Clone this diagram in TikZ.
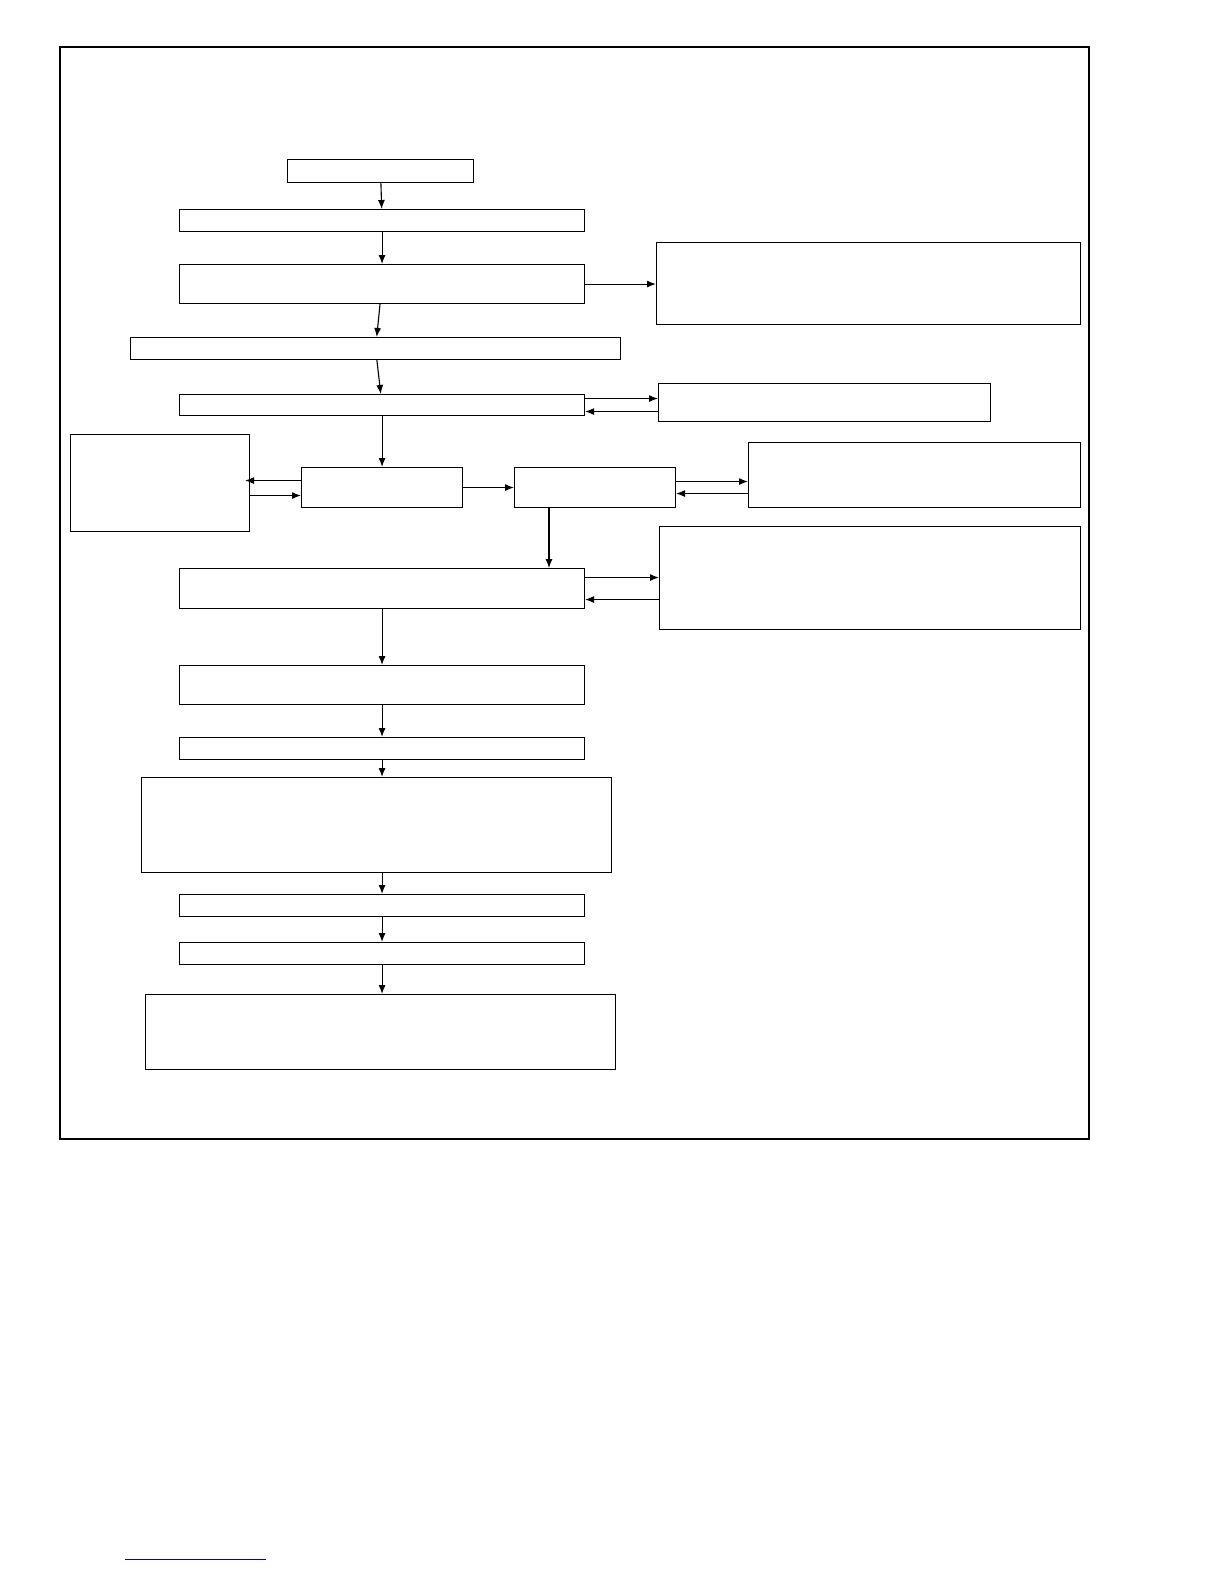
\documentclass[tikz,border=0pt]{standalone}
\usetikzlibrary{arrows.meta}
\begin{document}
\begin{tikzpicture}[x=1pt,y=-1pt,
  box/.style={draw,line width=1.1pt,anchor=north west,inner sep=0pt},
  arr/.style={line width=1.1pt,-{Latex[length=9pt,width=7pt]}}]
\useasboundingbox (0,0) rectangle (1224,1584);
\draw[line width=1.8pt] (60,47) rectangle (1089,1139);
\newcommand{\bx}[5]{\node[box,minimum width=#4pt-#2pt,minimum height=#5pt-#3pt] (#1) at (#2,#3) {};}
\bx{b1}{287}{159}{473}{182}
\bx{b2}{179}{209}{584}{231}
\bx{b3}{179}{264}{584}{303}
\bx{r1}{656}{242}{1080}{324}
\bx{b4}{130}{337}{620}{359}
\bx{b5}{179}{394}{584}{415}
\bx{r2}{658}{383}{990}{421}
\bx{l1}{70}{434}{249}{531}
\bx{c1}{301}{467}{462}{507}
\bx{c2}{514}{467}{675}{507}
\bx{r3}{748}{442}{1080}{507}
\bx{r4}{659}{526}{1080}{629}
\bx{b6}{179}{568}{584}{608}
\bx{b7}{179}{665}{584}{704}
\bx{b8}{179}{737}{584}{759}
\bx{b9}{141}{777}{611}{872}
\bx{b10}{179}{894}{584}{916}
\bx{b11}{179}{942}{584}{964}
\bx{b12}{145}{994}{615}{1069}
\draw[arr] (b1) -- (b2);
\draw[arr] (b2) -- (b3);
\draw[arr] (b3) -- (b4);
\draw[arr] (b4) -- (b5);
\draw[arr] (b5.south -| c1.north) -- (c1.north);
\draw[arr] (b3.east) -- (b3.east -| r1.west);
\draw[arr] ([yshift=6.5pt]b5.east) -- ([yshift=6.5pt]b5.east -| r2.west);
\draw[arr] ([yshift=-6.5pt]b5.east -| r2.west) -- ([yshift=-6.5pt]b5.east);
\draw[arr] ([yshift=7pt]c1.west) -- ([yshift=7pt,xshift=-5pt]c1.west -| l1.east);
\draw[arr] ([yshift=-8pt]c1.west -| l1.east) -- ([yshift=-8pt]c1.west);
\draw[arr] (c1.east) -- (c2.west);
\draw[arr] ([yshift=6pt]c2.east) -- ([yshift=6pt]c2.east -| r3.west);
\draw[arr] ([yshift=-6pt]c2.east -| r3.west) -- ([yshift=-6pt]c2.east);
\draw[arr] ([xshift=35pt]c2.south west) -- ([xshift=35pt]c2.south west |- b6.north);
\draw[arr] ([yshift=11pt]b6.east) -- ([yshift=11pt]b6.east -| r4.west);
\draw[arr] ([yshift=-11pt]b6.east -| r4.west) -- ([yshift=-11pt]b6.east);
\draw[arr] (b6) -- (b7);
\draw[arr] (b7) -- (b8);
\draw[arr] (b8.south) -- (b8.south |- b9.north);
\draw[arr] (b9.south -| b10.north) -- (b10.north);
\draw[arr] (b10) -- (b11);
\draw[arr] (b11.south) -- (b11.south |- b12.north);
\draw[blue!70!black,line width=0.8pt] (125,1559) -- (266,1559);
\end{tikzpicture}
\end{document}
